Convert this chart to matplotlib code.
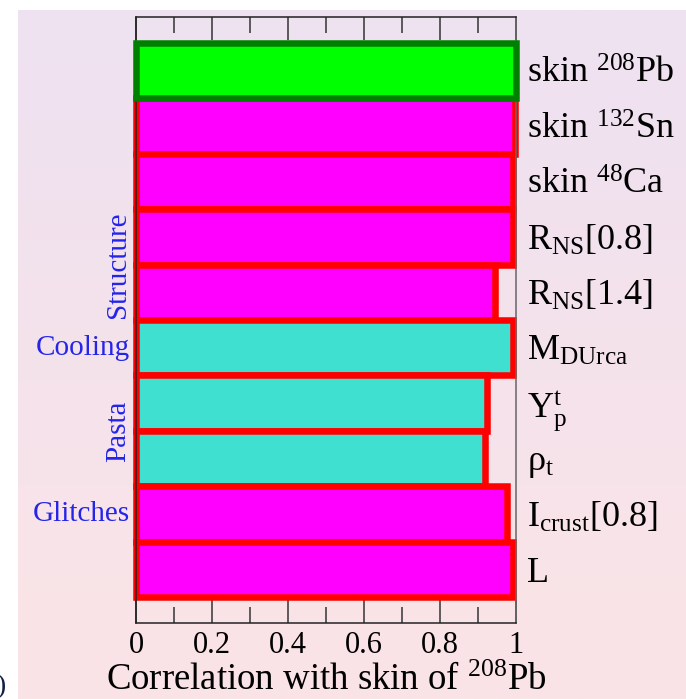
import numpy as np
import matplotlib
matplotlib.use("Agg")
import matplotlib.pyplot as plt
import matplotlib.transforms as mtransforms
from matplotlib.ticker import FixedLocator

plt.rcParams['font.family'] = ['Liberation Serif', 'DejaVu Serif']
plt.rcParams['mathtext.fontset'] = 'custom'
plt.rcParams['mathtext.rm'] = 'Liberation Serif'
plt.rcParams['mathtext.it'] = 'Liberation Serif:italic'
plt.rcParams['mathtext.bf'] = 'Liberation Serif:bold'

# observables, top to bottom
labels = [r"skin $^{208}$Pb", r"skin $^{132}$Sn", r"skin $^{48}$Ca",
          r"R$_{\rm NS}$[0.8]", r"R$_{\rm NS}$[1.4]", r"M$_{\rm DUrca}$",
          r"Y$_{\rm p}^{\rm t}$", r"ρ$_{\rm t}$", r"I$_{\rm crust}$[0.8]", "L"]
corr = [1.0, 0.997, 0.992, 0.993, 0.945, 0.991, 0.923, 0.918, 0.976, 0.992]
fills = ['#00FF00', '#FF00FF', '#FF00FF', '#FF00FF', '#FF00FF',
         '#40E0D0', '#40E0D0', '#40E0D0', '#FF00FF', '#FF00FF']
edges = ['#008000'] + ['#FF0000'] * 9

xticks = [0, 0.2, 0.4, 0.6, 0.8, 1.0]
xticklabels = ['0', '0.2', '0.4', '0.6', '0.8', '1']
xminor = [0.1, 0.3, 0.5, 0.7, 0.9]

# group labels: (text, position in bar units, rotation)
group_names = ["Structure", "Cooling", "Pasta", "Glitches"]
group_pos = [3.5, 5.0, 6.5, 8.0]
group_rot = [90, 0, 90, 0]

W, H = 686, 699
fig = plt.figure(figsize=(W / 100, H / 100), dpi=100)
fig.patch.set_facecolor('white')

# gradient background
bg = fig.add_axes([18 / W, 0, (W - 18) / W, (H - 10) / H], zorder=-5)
top_c = np.array([238, 225, 241]) / 255
bot_c = np.array([251, 228, 230]) / 255
t = np.linspace(0, 1, 256)[:, None]
grad = top_c[None, :] * (1 - t) + bot_c[None, :] * t
bg.imshow(grad[:, None, :], aspect='auto', extent=[0, 1, 0, 1])
bg.axis('off')

ax = fig.add_axes([136 / W, (H - 623) / H, 380 / W, (623 - 17) / H])
ax.patch.set_alpha(0)

y = np.arange(len(labels))
bars = ax.barh(y, corr, height=1.0, color=fills, edgecolor=edges,
               linewidth=4.7, clip_on=False, zorder=2)
bars[0].set_zorder(3)

ax.set_xlim(0, 1)
ax.set_ylim(9.97, -0.97)

ax.set_xticks(xticks)
ax.set_xticklabels(xticklabels)
ax.xaxis.set_minor_locator(FixedLocator(xminor))
ax.tick_params(axis='x', which='both', direction='in', top=True, bottom=True,
               color='#333333', width=1.1, labelsize=22, pad=6)
ax.tick_params(axis='x', which='major', length=16.5)
ax.tick_params(axis='x', which='minor', length=11.5)

ax.set_yticks(y)
ax.set_yticklabels(labels)
ax.yaxis.tick_right()
ax.tick_params(axis='y', length=0, labelsize=26, pad=8)

for s in ax.spines.values():
    s.set_linewidth(1.1)
    s.set_color('#222222')
ax.spines['right'].set_color('#666666')

ax.set_xlabel(r"Correlation with skin of $^{208}$Pb", fontsize=26.5, labelpad=2)

trans = mtransforms.blended_transform_factory(ax.transAxes, ax.transData)
for name, pos, rot in zip(group_names, group_pos, group_rot):
    if rot == 90:
        ax.text(-0.047, pos, name, transform=trans, rotation=90, ha='center',
                va='center', fontsize=21, color='#2424EA')
    else:
        ax.text(-0.016, pos, name, transform=trans, ha='right', va='center',
                fontsize=21, color='#2424EA')

fig.text(-0.006, 0.0, ")", fontsize=20, color='#102040', ha='left', va='bottom')

fig.savefig("out.png", dpi=100)
